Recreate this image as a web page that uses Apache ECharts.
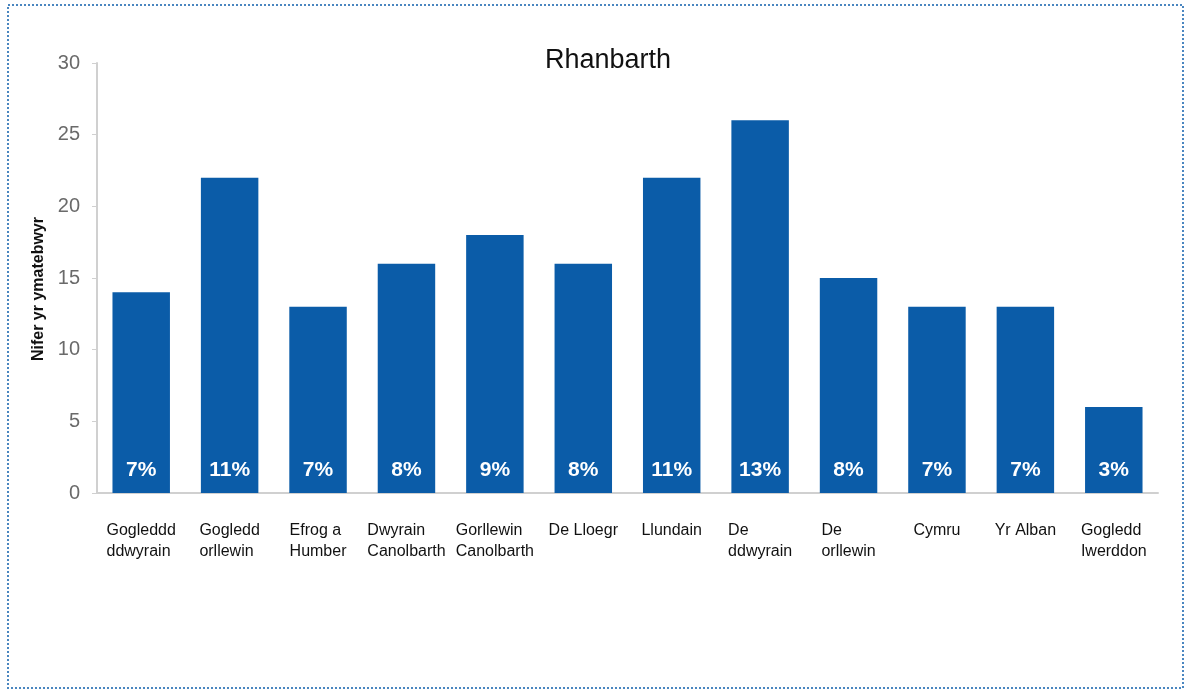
<!DOCTYPE html>
<html>
<head>
<meta charset="utf-8">
<script src="https://cdn.jsdelivr.net/npm/echarts@6/dist/echarts.min.js"></script>
<style>
  html, body { margin: 0; padding: 0; background: #fff; }
  #chart { width: 1186px; height: 691px; }
</style>
</head>
<body>
<div id="chart"></div>
<script>
// Regions (Welsh names), response counts and share of respondents
const categories = [
  'Gogleddd\nddwyrain', 'Gogledd\norllewin', 'Efrog a\nHumber', 'Dwyrain\nCanolbarth',
  'Gorllewin\nCanolbarth', 'De Lloegr', 'Llundain', 'De\nddwyrain',
  'De\norllewin', 'Cymru', 'Yr Alban', 'Gogledd\nIwerddon'
];
const counts = [14, 22, 13, 16, 18, 16, 22, 26, 15, 13, 13, 6];
const percents = [7, 11, 7, 8, 9, 8, 11, 13, 8, 7, 7, 3];
const yTicks = [0, 5, 10, 15, 20, 25, 30];

const chart = echarts.init(document.getElementById('chart'));
const font = '"Liberation Sans", Arial, sans-serif';

chart.setOption({
  animation: false,
  backgroundColor: '#ffffff',
  title: {
    text: 'Rhanbarth',
    left: 603,
    textAlign: 'center',
    top: 42,
    textStyle: { fontFamily: font, fontSize: 27, fontWeight: 'normal', color: '#111' }
  },
  grid: { left: 97, right: 28, top: 63, bottom: 198 },
  xAxis: {
    type: 'category',
    data: categories,
    axisLine: { lineStyle: { color: '#d0d0d0', width: 2 } },
    axisTick: { show: false },
    axisLabel: {
      interval: 0,
      margin: 27,
      color: '#111',
      // each line starts at the left edge of its centred block
      formatter: v => v.split('\n').map(s => '{l|' + s + '}').join('\n'),
      rich: {
        l: { align: 'left', fontFamily: font, fontSize: 16, lineHeight: 21, color: '#111' }
      }
    }
  },
  yAxis: {
    type: 'value',
    min: yTicks[0],
    max: yTicks[yTicks.length - 1],
    interval: 5,
    name: 'Nifer yr ymatebwyr',
    nameLocation: 'middle',
    nameRotate: 90,
    nameGap: 48,
    nameTextStyle: { fontFamily: font, fontSize: 16, fontWeight: 'bold', color: '#111', padding: [0, 22, 0, 0] },
    axisLine: { show: true, lineStyle: { color: '#d0d0d0', width: 2 } },
    axisTick: { show: true, length: 5, lineStyle: { color: '#d0d0d0' } },
    splitLine: { show: false },
    axisLabel: { margin: 17, fontFamily: font, fontSize: 20, color: '#6a6a6a' }
  },
  series: [{
    type: 'bar',
    data: counts,
    barWidth: '65%',
    itemStyle: { color: '#0b5ca8' },
    label: {
      show: true,
      position: 'insideBottom',
      distance: 12,
      formatter: p => percents[p.dataIndex] + '%',
      fontFamily: font,
      fontSize: 21,
      fontWeight: 'bold',
      color: '#ffffff'
    }
  }],
  graphic: [{
    type: 'rect',
    shape: { x: 8, y: 5, width: 1175, height: 683 },
    style: { fill: 'none', stroke: '#4a86c0', lineWidth: 2, lineDash: [2, 2] },
    silent: true
  }]
});
</script>
</body>
</html>
